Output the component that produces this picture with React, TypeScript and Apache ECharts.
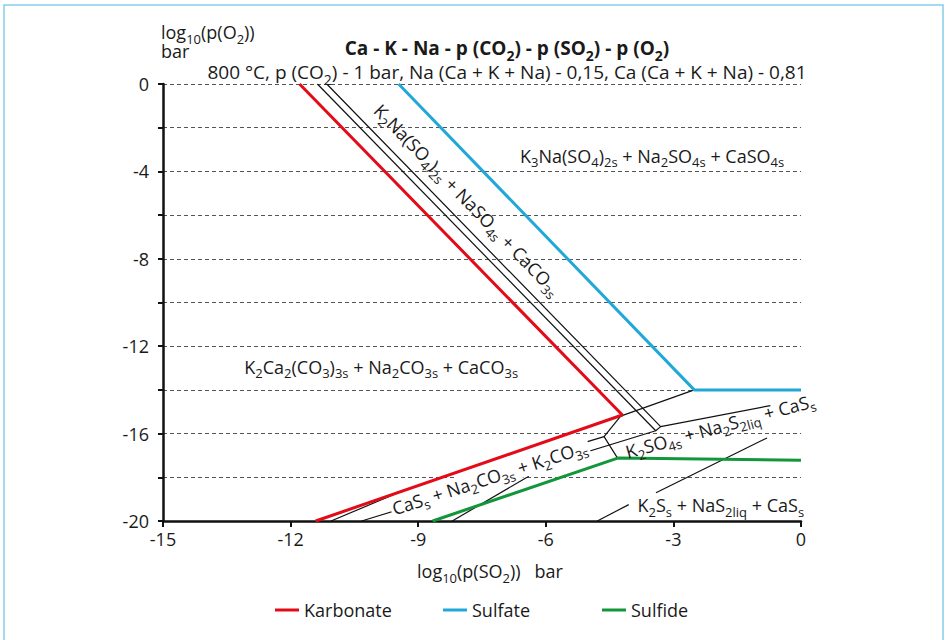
import React, { useEffect, useRef } from 'react';
import * as echarts from 'echarts';

// ---- data (log10 p(SO2), log10 p(O2)) ----
const karbonate = [[-11.79, 0], [-4.2, -15.15], [-11.41, -20]];
const sulfate = [[-9.46, 0], [-2.51, -14.0], [0, -14.0]];
const sulfide = [[-8.66, -20], [-4.31, -17.12], [0, -17.22]];

const boundary1 = [[-11.37, 0], [-3.415, -15.87]];
const boundary2 = [[-11.15, 0], [-3.3, -15.68], [-0.72, -14.72]];
const boundary3 = [[-10.33, -20], [-3.415, -15.87], [-3.3, -15.68]];
const boundary4 = [[-4.24, -15.2], [-2.51, -14.0]];
const boundary5 = [[-4.24, -15.2], [-4.63, -16.14], [-4.32, -17.1]];
const boundary6 = [[-4.63, -16.14], [-5.02, -16.37]];
const boundary7 = [[-8.2, -20], [-6.4, -17.95]];
const boundary8 = [[-3.41, -18.71], [-0.8, -16.2]];
const boundary9 = [[-4.79, -20], [-4.05, -19.25]];
const boundary10 = [[-11.05, -20], [-9.5, -18.73]];
const boundaries = [boundary1, boundary2, boundary3, boundary4, boundary5, boundary6, boundary7, boundary8, boundary9, boundary10];

const legendNames = ['Karbonate', 'Sulfate', 'Sulfide'];

// region labels: text, anchor (data coords), angle in degrees, white backing
const regionLabels = [
  { text: 'K_2Na(SO_4)_{2s} + NaSO_{4s} + CaCO_{3s}', at: [-7.84, -5.3], angle: -45.8, bg: false },
  { text: 'K_3Na(SO_4)_{2s} + Na_2SO_{4s} + CaSO_{4s}', at: [-3.5, -3.28], angle: 0, bg: false },
  { text: 'K_2Ca_2(CO_3)_{3s} + Na_2CO_{3s} + CaCO_{3s}', at: [-9.87, -12.93], angle: 0, bg: false },
  { text: 'CaS_s + Na_2CO_{3s} + K_2CO_{3s}', at: [-7.32, -18.0], angle: 18, bg: true },
  { text: 'K_2SO_{4s} + Na_2S_{2liq} + CaS_s', at: [-1.9, -15.65], angle: 15.5, bg: false },
  { text: 'K_2S_s + NaS_{2liq} + CaS_s', at: [-1.885, -19.27], angle: 0, bg: true },
];

const titleText = 'Ca - K - Na - p (CO_2) - p (SO_2) - p (O_2)';
const subtitleText = '800 °C, p (CO_2) - 1 bar, Na (Ca + K + Na) - 0,15, Ca (Ca + K + Na) - 0,81';
const yName1 = 'log_{10}(p(O_2))';
const yName2 = 'bar';
const xName = 'log_{10}(p(SO_2))   bar';

const FONT = '"Open Sans", "Noto Sans", sans-serif';
const INK = '#1a1a1a';
const RED = '#e30b17';
const BLUE = '#21a8d8';
const GREEN = '#13963a';
const FS = 18;

function makeRich(size: number, lh: number) {
  const sub = Math.round(size * 0.72);
  const pad = Math.round(size * 0.72);
  const base = { fontFamily: FONT, fill: INK, verticalAlign: 'middle', lineHeight: lh };
  return {
    n: { ...base, fontSize: size, fontWeight: 'normal' },
    s: { ...base, fontSize: sub, fontWeight: 'normal', padding: [pad, 0, 0, 0] },
    bn: { ...base, fontSize: size, fontWeight: 'bold' },
    bs: { ...base, fontSize: sub, fontWeight: 'bold', padding: [pad, 0, 0, 0] },
  };
}

function toRich(src: string, bold = false) {
  const re = /_\{([^}]*)\}|_(.)/g;
  const n = bold ? 'bn' : 'n';
  const s = bold ? 'bs' : 's';
  let out = '';
  let last = 0;
  let m: RegExpExecArray | null;
  while ((m = re.exec(src))) {
    if (m.index > last) out += `{${n}|${src.slice(last, m.index)}}`;
    out += `{${s}|${m[1] !== undefined ? m[1] : m[2]}}`;
    last = re.lastIndex;
  }
  if (last < src.length) out += `{${n}|${src.slice(last)}}`;
  return out;
}

function textEl(id: string, text: string, x: number, y: number, align: string, lh: number, rotation = 0, bg = false, size = FS) {
  const style: any = { text, rich: makeRich(size, lh), align, verticalAlign: 'middle', fill: INK, fontFamily: FONT, fontSize: size };
  if (bg) {
    style.backgroundColor = '#fff';
    style.padding = [0, 2, 0, 2];
  }
  return { id, type: 'text', x, y, rotation, z: 50, silent: true, style };
}

export default function App() {
  const ref = useRef<HTMLDivElement>(null);
  useEffect(() => {
    if (!ref.current) return;
    const chart = echarts.init(ref.current, null, { renderer: 'svg' });
    const colored = [
      { name: legendNames[0], data: karbonate, color: RED },
      { name: legendNames[1], data: sulfate, color: BLUE },
      { name: legendNames[2], data: sulfide, color: GREEN },
    ];
    const series: any[] = [];
    boundaries.forEach((b, i) => {
      series.push({
        name: 'b' + i,
        type: 'line',
        data: b,
        symbol: 'none',
        silent: true,
        color: '#111',
        lineStyle: { color: '#111', width: 1.2 },
        z: 3,
      });
    });
    colored.forEach((c) => {
      series.push({
        name: c.name,
        type: 'line',
        data: c.data,
        symbol: 'none',
        silent: true,
        color: c.color,
        lineStyle: { color: c.color, width: 3 },
        z: 5,
      });
    });

    const legendLefts = [275, 443, 602];
    const legends = legendNames.map((n, i) => ({
      data: [n],
      left: legendLefts[i],
      top: 601,
      padding: 0,
      icon: 'rect',
      itemWidth: 24,
      itemHeight: 3,
      textStyle: { fontSize: FS, color: INK, fontFamily: FONT },
      selectedMode: false,
    }));

    chart.setOption({
      animation: false,
      grid: { left: 163, right: 146, top: 84, bottom: 119, containLabel: false },
      xAxis: {
        type: 'value',
        min: -15,
        max: 0,
        interval: 3,
        axisLine: { show: true, onZero: false, lineStyle: { color: '#111', width: 2.5 } },
        axisTick: { show: true, length: 6, lineStyle: { color: '#111', width: 2 } },
        axisLabel: { fontSize: FS, color: INK, fontFamily: FONT, margin: 9 },
        splitLine: { show: false },
      },
      yAxis: {
        type: 'value',
        min: -20,
        max: 0,
        interval: 2,
        axisLine: { show: true, onZero: false, lineStyle: { color: '#111', width: 2.5 } },
        axisTick: { show: true, length: 5, lineStyle: { color: '#111', width: 2 } },
        axisLabel: {
          fontSize: FS,
          color: INK,
          fontFamily: FONT,
          margin: 14,
          formatter: (v: number) => (v % 4 === 0 ? String(Math.abs(v) === 0 ? 0 : v) : ''),
        },
        splitLine: { show: true, lineStyle: { color: '#555', width: 1, type: [4, 3] } },
      },
      legend: legends,
      series,
      graphic: {
        elements: [
          { id: 'frame', type: 'rect', shape: { x: 4, y: 5, width: 939, height: 660 }, style: { fill: 'none', stroke: '#86cdec', lineWidth: 1.5 }, silent: true },
          textEl('titles', toRich(titleText, true) + '\n' + toRich(subtitleText), 507, 60, 'center', 24, 0, false, 19),
          textEl('yname', toRich(yName1) + '\n' + toRich(yName2), 161, 41.5, 'left', 19),
          textEl('xname', toRich(xName), 490, 571, 'center', 22),
        ],
      },
    });

    const labelEls = regionLabels.map((l, i) => {
      const p = chart.convertToPixel({ gridIndex: 0 }, l.at) as number[];
      return textEl('rl' + i, toRich(l.text), p[0], p[1], 'center', 21, (l.angle * Math.PI) / 180, l.bg);
    });
    chart.setOption({ graphic: { elements: labelEls } });

    return () => chart.dispose();
  }, []);
  return <div ref={ref} style={{ position: 'absolute', left: 0, top: 0, width: 947, height: 640, background: '#fff' }} />;
}
